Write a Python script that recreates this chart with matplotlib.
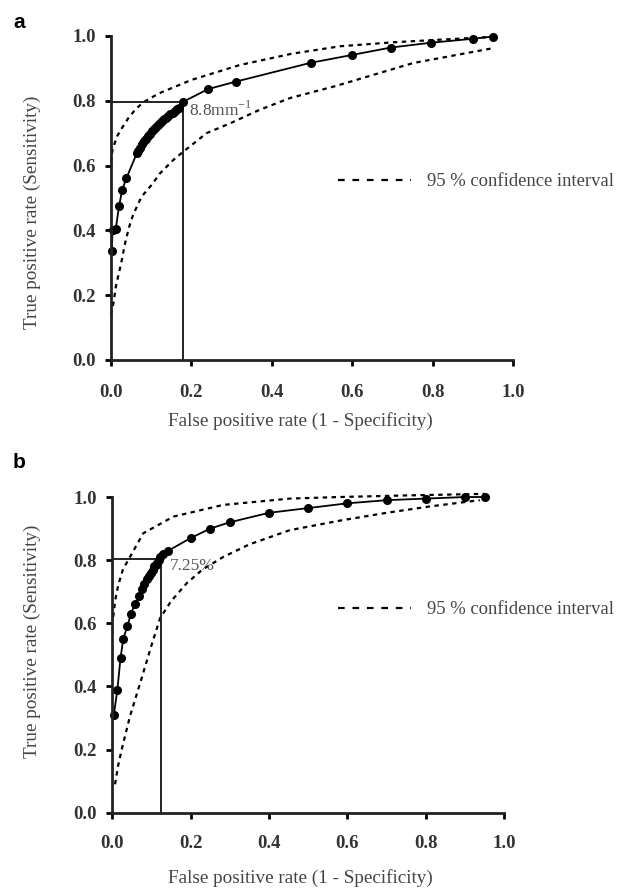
import matplotlib
matplotlib.use("Agg")
import matplotlib.pyplot as plt
from matplotlib.lines import Line2D

plt.rcParams['font.family'] = ['Liberation Serif', 'DejaVu Serif']

# ---- panel a: ROC points ----
fpr_a = [0.002, 0.004, 0.012, 0.02, 0.028, 0.038, 0.065, 0.068, 0.073, 0.078, 0.083, 0.088,
         0.093, 0.098, 0.103, 0.108, 0.113, 0.118, 0.123, 0.128, 0.133, 0.138, 0.143, 0.148,
         0.153, 0.158, 0.163, 0.168, 0.18, 0.242, 0.311, 0.497, 0.599, 0.696, 0.797, 0.9, 0.95]
tpr_a = [0.335, 0.40, 0.405, 0.475, 0.525, 0.56, 0.64, 0.645, 0.655, 0.665, 0.675, 0.683,
         0.691, 0.698, 0.705, 0.712, 0.718, 0.724, 0.73, 0.736, 0.742, 0.748, 0.753, 0.758,
         0.763, 0.768, 0.773, 0.778, 0.797, 0.836, 0.859, 0.917, 0.941, 0.964, 0.979, 0.991, 0.998]
ci_up_x_a = [0.0, 0.004, 0.015, 0.027, 0.043, 0.06, 0.08, 0.12, 0.2, 0.32, 0.45, 0.57, 0.7, 0.8, 0.95]
ci_up_y_a = [0.61, 0.65, 0.69, 0.715, 0.746, 0.772, 0.795, 0.823, 0.864, 0.91, 0.945, 0.968, 0.98, 0.987, 0.997]
ci_lo_x_a = [0.0, 0.006, 0.012, 0.02, 0.027, 0.035, 0.045, 0.055, 0.076, 0.101, 0.122, 0.155,
             0.18, 0.238, 0.296, 0.37, 0.445, 0.561, 0.751, 0.95]
ci_lo_y_a = [0.14, 0.175, 0.226, 0.27, 0.309, 0.36, 0.41, 0.448, 0.504, 0.54, 0.576, 0.617,
             0.643, 0.70, 0.73, 0.772, 0.808, 0.846, 0.916, 0.962]
cut_a = (0.18, 0.797)
label_a = "8.8mm$^{\\mathregular{-1}}$"

# ---- panel b: ROC points ----
fpr_b = [0.004, 0.013, 0.021, 0.028, 0.038, 0.048, 0.057, 0.067, 0.075, 0.082, 0.088, 0.093,
         0.098, 0.103, 0.107, 0.111, 0.115, 0.119, 0.123, 0.13, 0.143, 0.2, 0.25, 0.3, 0.4,
         0.5, 0.6, 0.7, 0.8, 0.9, 0.95]
tpr_b = [0.31, 0.39, 0.49, 0.55, 0.59, 0.63, 0.66, 0.685, 0.71, 0.725, 0.74, 0.75,
         0.76, 0.77, 0.78, 0.785, 0.79, 0.80, 0.81, 0.82, 0.83, 0.87, 0.90, 0.92, 0.95,
         0.965, 0.98, 0.99, 0.995, 1.0, 1.0]
ci_up_x_b = [0.002, 0.004, 0.007, 0.015, 0.027, 0.045, 0.079, 0.156, 0.283, 0.453, 0.58, 0.75, 0.95]
ci_up_y_b = [0.62, 0.633, 0.67, 0.72, 0.77, 0.81, 0.885, 0.938, 0.975, 0.995, 1.0, 1.005, 1.01]
ci_lo_x_b = [0.007, 0.015, 0.024, 0.045, 0.071, 0.1, 0.122, 0.15, 0.19, 0.23, 0.283, 0.35,
             0.453, 0.58, 0.7, 0.81, 0.938]
ci_lo_y_b = [0.09, 0.15, 0.2, 0.305, 0.41, 0.53, 0.616, 0.67, 0.727, 0.77, 0.81, 0.85,
             0.895, 0.925, 0.95, 0.97, 0.99]
cut_b = (0.124, 0.805)
label_b = "7.25%"

ticks = [0.0, 0.2, 0.4, 0.6, 0.8, 1.0]
tick_labels = ["0.0", "0.2", "0.4", "0.6", "0.8", "1.0"]
dot = (0, (2, 2))


def draw_panel(ax, fpr, tpr, ux, uy, lx, ly, cut, label, label_xy, legend_xy, xlab_xy, ylab_xy, xtick_pad):
    ax.plot(ux, uy, color='black', lw=1.6, linestyle=dot, clip_on=False)
    ax.plot(lx, ly, color='black', lw=1.6, linestyle=dot, clip_on=False)
    ax.plot([0, cut[0]], [cut[1], cut[1]], color='#222222', lw=1.4)
    ax.plot([cut[0], cut[0]], [0, cut[1]], color='#222222', lw=1.4)
    ax.plot(fpr, tpr, color='black', lw=1.3, marker='o', markersize=5.5, clip_on=False)
    ax.text(label_xy[0], label_xy[1], label, fontsize=12.5, color='#555555', va='center', ha='left')

    ax.set_xlim(0, 1)
    ax.set_ylim(0, 1)
    ax.set_xticks(ticks)
    ax.set_yticks(ticks)
    ax.set_xticklabels(tick_labels, fontweight='bold', fontsize=13.5, color='#333333')
    ax.set_yticklabels(tick_labels, fontweight='bold', fontsize=13.5, color='#333333')
    ax.tick_params(axis='x', direction='out', length=4, width=2, pad=xtick_pad)
    ax.tick_params(axis='y', direction='out', length=4, width=2, pad=7)
    for s in ['top', 'right']:
        ax.spines[s].set_visible(False)
    for s in ['left', 'bottom']:
        ax.spines[s].set_linewidth(2)
        ax.spines[s].set_color('#222222')
    ax.set_xlabel("False positive rate (1 - Specificity)", fontsize=13.8, color='#444444')
    ax.set_ylabel("True positive rate (Sensitivity)", fontsize=13.8, color='#444444')
    ax.xaxis.set_label_coords(*xlab_xy)
    ax.yaxis.set_label_coords(*ylab_xy)

    proxy = Line2D([], [], color='black', lw=1.6, linestyle=(0, (3, 3.5)))
    ax.legend([proxy], ["95 % confidence interval"], loc='center left', bbox_to_anchor=legend_xy,
              frameon=False, handlelength=3.9, handletextpad=0.9, borderaxespad=0, borderpad=0,
              prop={'size': 13.4}, labelcolor='#444444')


fig = plt.figure(figsize=(6.18, 8.88), dpi=100)
ax_a = fig.add_axes([0.1796, 0.5946, 0.6505, 0.365])
ax_b = fig.add_axes([0.1817, 0.0848, 0.634, 0.3555])

# axis-label anchors in axes fraction: x-label top centre, y-label right edge / centre
draw_panel(ax_a, fpr_a, tpr_a, ci_up_x_a, ci_up_y_a, ci_lo_x_a, ci_lo_y_a,
           cut_a, label_a, (0.195, 0.77), (0.565, 0.55),
           (0.47, -52 / 324), (-70 / 402, 0.455), 13)
draw_panel(ax_b, fpr_b, tpr_b, ci_up_x_b, ci_up_y_b, ci_lo_x_b, ci_lo_y_b,
           cut_b, label_b, (0.147, 0.78), (0.576, 0.643),
           (0.479, -56 / 316), (-71 / 392, 0.543), 12)

fig.text(13 / 618, 1 - 22 / 888, "a", fontsize=15, fontweight='bold', family=['Liberation Sans'], va='center')
fig.text(13 / 618, 1 - 462 / 888, "b", fontsize=15, fontweight='bold', family=['Liberation Sans'], va='center')

fig.savefig("out.png", dpi=100, facecolor='white')
